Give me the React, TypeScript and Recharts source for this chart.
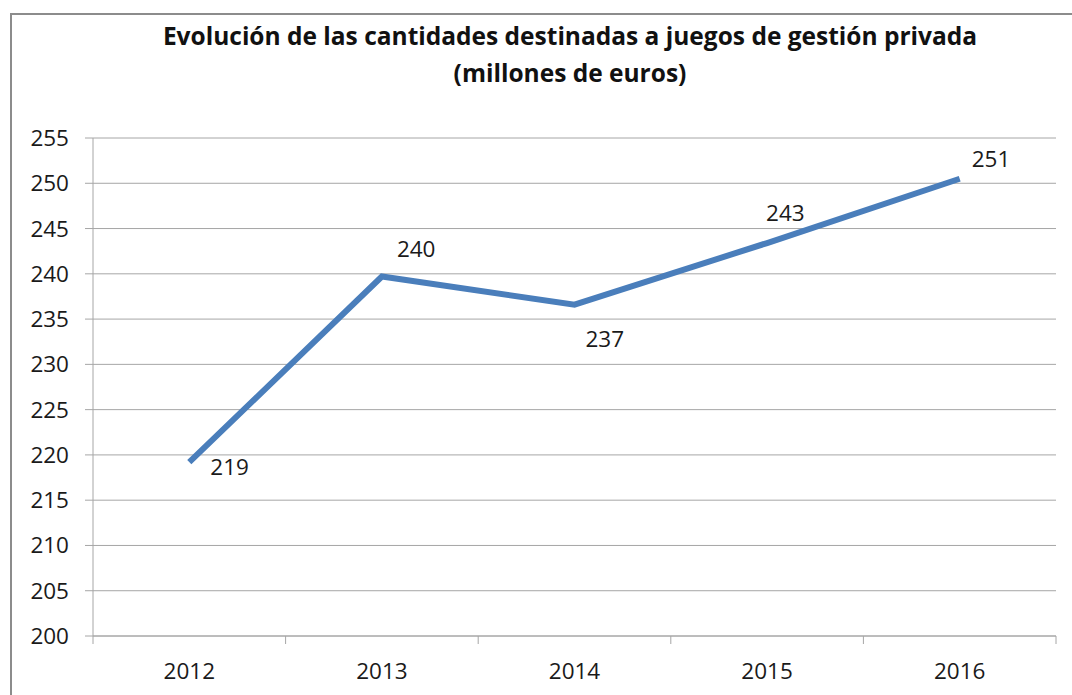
import React from "react";
import { LineChart, Line, XAxis, YAxis, CartesianGrid, LabelList } from "recharts";

const years = ["2012", "2013", "2014", "2015", "2016"];
const amounts = [219.2, 239.7, 236.6, 243.4, 250.5];
const labelsText = ["219", "240", "237", "243", "251"];
const yTicks = [200, 205, 210, 215, 220, 225, 230, 235, 240, 245, 250, 255];

const data = years.map((y, i) => ({ year: y, value: amounts[i], label: labelsText[i] }));

const FONT = "'Open Sans', sans-serif";
const W = 1072;
const H = 695;
const PLOT_LEFT = 93;
const PLOT_RIGHT = 1056;
const PLOT_BOTTOM = 636;
const BAND = (PLOT_RIGHT - PLOT_LEFT) / years.length;

// label offsets (dx from point to text start, dy from point to text middle)
const labelOffsets = [
  [21, 4],
  [15, -28],
  [11, 34],
  [-1, -31],
  [12, -20],
];

const XTick = (props: any) => {
  const { x, payload, index } = props;
  const axisY = PLOT_BOTTOM;
  const left = x - BAND / 2;
  return (
    <g>
      <line x1={left} y1={axisY} x2={left} y2={axisY + 8} stroke="#a6a6a6" strokeWidth={1} />
      {index === years.length - 1 && (
        <line x1={x + BAND / 2} y1={axisY} x2={x + BAND / 2} y2={axisY + 8} stroke="#a6a6a6" strokeWidth={1} />
      )}
      <text x={x} y={axisY + 34} textAnchor="middle" dominantBaseline="central" fontFamily={FONT} fontSize={22.5} fill="#1a1a1a">
        {payload.value}
      </text>
    </g>
  );
};

const PointLabel = (props: any) => {
  const { x, y, value, index } = props;
  const [dx, dy] = labelOffsets[index] || [0, 0];
  return (
    <text x={x + dx} y={y + dy} dominantBaseline="central" textAnchor="start" fontFamily={FONT} fontSize={22.5} fill="#1a1a1a">
      {value}
    </text>
  );
};

export default function App() {
  return (
    <div style={{ position: "absolute", left: 0, top: 0, width: W, height: H, background: "#fff", overflow: "hidden" }}>
      <div
        style={{
          position: "absolute",
          left: 10,
          top: 13,
          width: W,
          height: H,
          borderLeft: "2px solid #8c8c8c",
          borderTop: "2px solid #8c8c8c",
        }}
      />
      <div
        style={{
          position: "absolute",
          left: 0,
          width: 1140,
          top: 17,
          textAlign: "center",
          fontFamily: FONT,
          fontWeight: 700,
          fontSize: 24.5,
          lineHeight: "37px",
          color: "#111",
        }}
      >
        Evolución de las cantidades destinadas a juegos de gestión privada
        <br />
        (millones de euros)
      </div>
      <div style={{ position: "absolute", left: 0, top: 0 }}>
        <LineChart width={W} height={H} data={data} margin={{ top: 138, right: W - PLOT_RIGHT, bottom: 0, left: 0 }}>
          <CartesianGrid vertical={false} stroke="#a6a6a6" strokeWidth={1} />
          <XAxis
            dataKey="year"
            scale="band"
            height={H - PLOT_BOTTOM}
            axisLine={{ stroke: "#a6a6a6" }}
            tickLine={false}
            tick={<XTick />}
            interval={0}
          />
          <YAxis
            width={PLOT_LEFT}
            domain={[200, 255]}
            ticks={yTicks}
            interval={0}
            axisLine={{ stroke: "#a6a6a6" }}
            tickLine={{ stroke: "#a6a6a6" }}
            tickSize={8}
            tickMargin={16}
            tick={{ fontFamily: FONT, fontSize: 22.5, fill: "#1a1a1a" }}
          />
          <Line
            type="linear"
            dataKey="value"
            stroke="#4a7ebb"
            strokeWidth={6}
            dot={false}
            isAnimationActive={false}
          >
            <LabelList dataKey="label" content={<PointLabel />} />
          </Line>
        </LineChart>
      </div>
    </div>
  );
}
